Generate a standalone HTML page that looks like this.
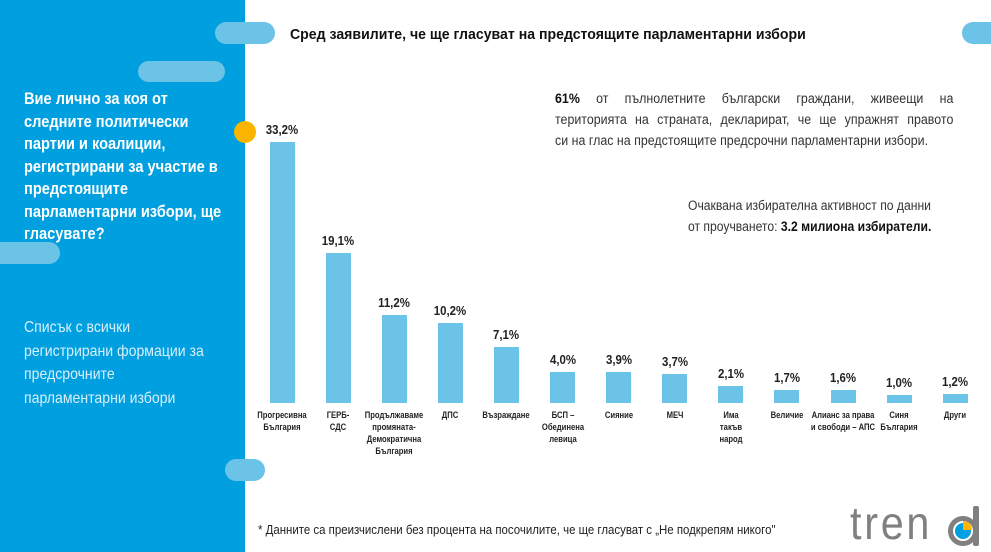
<!DOCTYPE html>
<html><head><meta charset="utf-8"><style>
body{margin:0;width:991px;height:552px;overflow:hidden;background:#fff;position:relative;font-family:"Liberation Sans","Noto Sans CJK SC",sans-serif;}
.abs{position:absolute;white-space:nowrap;transform-origin:0 0}
.pill{position:absolute;background:#6cc3e8;border-radius:12px}
.bar{position:absolute;background:#6cc3e8;width:25px}
.val{position:absolute;width:60px;text-align:center;font-weight:bold;font-size:13px;color:#222;transform:scaleX(0.88)}
.lab{position:absolute;width:90px;text-align:center;font-weight:bold;font-size:9px;line-height:12px;color:#222;white-space:nowrap;transform:scaleX(0.85)}
</style></head><body>
<div class="abs" style="left:0;top:0;width:245px;height:552px;background:#009fdf"></div>
<div class="pill" style="left:215px;top:22px;width:60px;height:22px"></div>
<div class="pill" style="left:138px;top:61px;width:87px;height:21px"></div>
<div class="pill" style="left:-20px;top:242px;width:80px;height:22px"></div>
<div class="pill" style="left:225px;top:459px;width:40px;height:22px"></div>
<div class="pill" style="left:962px;top:22px;width:50px;height:22px"></div>
<div class="abs" style="left:234px;top:121px;width:22px;height:22px;border-radius:50%;background:#fbb400"></div>
<div class="abs" style="left:24px;top:88px;color:#fff;font-weight:bold;font-size:17px;line-height:22.5px;transform:scaleX(0.86)">Вие лично за коя от<br>следните политически<br>партии и коалиции,<br>регистрирани за участие в<br>предстоящите<br>парламентарни избори, ще<br>гласувате?</div>
<div class="abs" style="left:24px;top:316px;color:#d8effa;font-size:16px;line-height:23.5px;transform:scaleX(0.88)">Списък с всички<br>регистрирани формации за<br>предсрочните<br>парламентарни избори</div>
<div class="abs" style="left:290px;top:26px;font-weight:bold;font-size:15px;color:#111;transform:scaleX(0.94)">Сред заявилите, че ще гласуват на предстоящите парламентарни избори</div>
<div class="abs" style="left:555px;top:88px;width:433px;font-size:13.5px;line-height:21px;color:#333;transform:scaleX(0.92);white-space:normal">
<div style="text-align:justify;text-align-last:justify"><b style="color:#111">61%</b> от пълнолетните български граждани, живеещи на</div>
<div style="text-align:justify;text-align-last:justify">територията на страната, декларират, че ще упражнят правото</div>
<div>си на глас на предстоящите предсрочни парламентарни избори.</div></div>
<div class="abs" style="left:688px;top:195px;font-size:13.5px;line-height:21px;color:#333;transform:scaleX(0.9)">Очаквана избирателна активност по данни<br>от проучването: <b style="color:#111">3.2 милиона избиратели.</b></div>
<div class="abs" style="left:258px;top:522px;font-size:13px;color:#222;transform:scaleX(0.88)">* Данните са преизчислени без процента на посочилите, че ще гласуват с „Не подкрепям никого"</div>
<div class="abs" style="left:850px;top:498px;font-size:46px;color:#808080;letter-spacing:3px;line-height:50px;transform:scaleX(0.9)">tren</div>
<div class="abs" style="left:948px;top:516px;width:30px;height:30px;border-radius:50%;border:5px solid #808080;box-sizing:border-box;background:#fff"></div>
<div class="abs" style="left:955px;top:523px;width:16px;height:16px;border-radius:50%;background:#009fdf"></div>
<div class="abs" style="left:963px;top:521px;width:9px;height:9px;background:#fbb400;border-radius:0 9px 0 0"></div>
<div class="abs" style="left:973px;top:506px;width:6px;height:40px;background:#808080;border-radius:2px"></div>
<div id="c"></div>
<script>
var d=[[33.2,"33,2%","Прогресивна<br>България"],[19.1,"19,1%","ГЕРБ-<br>СДС"],[11.2,"11,2%","Продължаваме<br>промяната-<br>Демократична<br>България"],[10.2,"10,2%","ДПС"],[7.1,"7,1%","Възраждане"],[4.0,"4,0%","БСП –<br>Обединена<br>левица"],[3.9,"3,9%","Сияние"],[3.7,"3,7%","МЕЧ"],[2.1,"2,1%","Има<br>такъв<br>народ"],[1.7,"1,7%","Величие"],[1.6,"1,6%","Алианс за права<br>и свободи – АПС"],[1.0,"1,0%","Синя<br>България"],[1.2,"1,2%","Други"]];
var h="";d.forEach(function(e,i){var cx=282+i*56.1,bh=Math.max(e[0]*7.86,8),top=403-bh;
h+='<div class="bar" style="left:'+(cx-12.5)+'px;top:'+top+'px;height:'+bh+'px"></div>';
h+='<div class="val" style="left:'+(cx-30)+'px;top:'+(top-20)+'px">'+e[1]+'</div>';
h+='<div class="lab" style="left:'+(cx-45)+'px;top:409px">'+e[2]+'</div>';});
document.getElementById("c").innerHTML=h;
</script>
</body></html>
